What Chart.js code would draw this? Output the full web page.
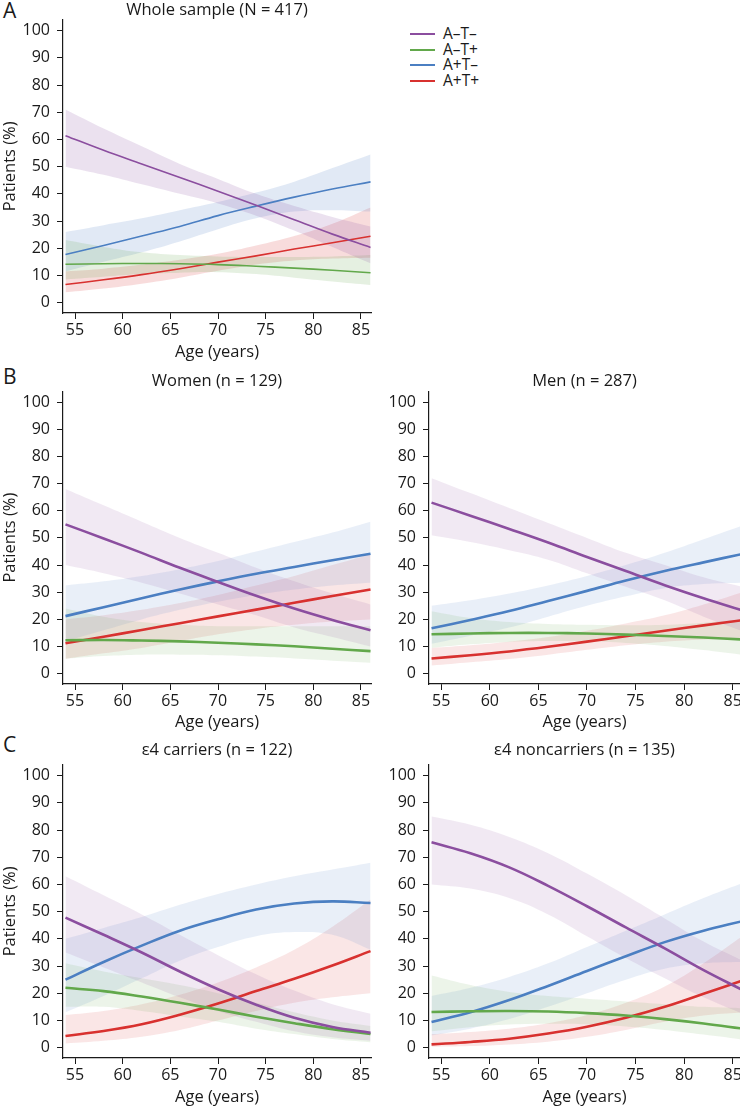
<!DOCTYPE html>
<html>
<head>
<meta charset="utf-8">
<script src="https://cdn.jsdelivr.net/npm/chart.js@4.4.0/dist/chart.umd.min.js"></script>
<style>
  body { margin: 0; width: 740px; height: 1108px; position: relative; background: #fff; overflow: hidden; font-family: 'Open Sans', sans-serif; color: #1a1a1a; }
  .panel { position: absolute; }
  .letter { position: absolute; left: 3px; font-size: 21px; line-height: 21px; }
  #legend { position: absolute; left: 410px; top: 26px; font-size: 15.5px; }
  #legend div { position: relative; height: 15.7px; line-height: 15.7px; padding-left: 33px; white-space: nowrap; }
  #legend span { position: absolute; left: 0; top: 7px; width: 25px; height: 2px; }
</style>
</head>
<body>
<div class="letter" style="top:0px">A</div>
<div class="letter" style="top:366px">B</div>
<div class="letter" style="top:734px">C</div>
<div id="legend"></div>

<div class="panel" style="left:0;top:0;width:380px;height:365px"><canvas id="whole"></canvas></div>
<div class="panel" style="left:0;top:365px;width:380px;height:370px"><canvas id="women"></canvas></div>
<div class="panel" style="left:370px;top:365px;width:370px;height:370px"><canvas id="men"></canvas></div>
<div class="panel" style="left:0;top:735px;width:380px;height:373px"><canvas id="carriers"></canvas></div>
<div class="panel" style="left:370px;top:735px;width:370px;height:373px"><canvas id="noncarriers"></canvas></div>

<script>
const ages = [54, 58, 62, 66, 70, 74, 78, 82, 86];
const groupLabels = ['A–T–', 'A–T+', 'A+T–', 'A+T+'];
const xTicks = [55, 60, 65, 70, 75, 80, 85];
const yTicks = [0, 10, 20, 30, 40, 50, 60, 70, 80, 90, 100];

// Whole sample (N = 417)
const wholeNN = [61.4, 56, 51, 46, 41, 35.8, 30.5, 25.2, 20.3];
const wholeNNlo = [50, 47, 43.5, 40, 36.5, 32, 26.5, 20.5, 14.5];
const wholeNNhi = [71, 64, 57.5, 51, 45.5, 40, 35.5, 31.5, 28];
const wholeNP = [14.1, 14.3, 14.4, 14.3, 14, 13.4, 12.7, 11.9, 11];
const wholeNPlo = [8.5, 9.5, 10.5, 11, 11.2, 10.5, 9.2, 7.8, 6.5];
const wholeNPhi = [23, 20.5, 18.5, 17.5, 17, 16.8, 16.8, 17, 17.5];
const wholePN = [17.7, 21, 24.5, 28, 32, 35.5, 38.8, 41.8, 44.4];
const wholePNlo = [11.5, 15, 18.5, 22.5, 27, 31, 33.5, 34, 33.5];
const wholePNhi = [26, 28.5, 31, 34, 37, 40.5, 44.5, 49.5, 54.5];
const wholePP = [6.7, 8.4, 10.3, 12.5, 14.9, 17.2, 19.7, 22, 24.4];
const wholePPlo = [3.8, 5.2, 7, 9.2, 11.7, 14, 15.5, 16.2, 16.5];
const wholePPhi = [11.5, 12.5, 14, 15.8, 18, 21, 24.5, 29, 35];

// Women (n = 129)
const womenNN = [55, 49.8, 44.5, 39, 33.8, 28.7, 24, 19.8, 16];
const womenNNlo = [40, 37, 33.5, 29.5, 25.5, 21.5, 17, 13.5, 10];
const womenNNhi = [68, 62, 56, 50, 44.5, 39, 34, 29.5, 25.5];
const womenNP = [12.3, 12.4, 12.2, 11.9, 11.4, 10.8, 10.1, 9.2, 8.3];
const womenNPlo = [5.5, 6.5, 7, 7, 6.8, 6.3, 5.6, 4.8, 4];
const womenNPhi = [24, 21, 19, 18, 17.5, 17.5, 17.5, 17.5, 17.5];
const womenPN = [21.2, 24.5, 27.8, 31, 34, 36.8, 39.3, 41.8, 44.2];
const womenPNlo = [12, 16, 20, 23.5, 26.5, 29, 31, 32.5, 33.5];
const womenPNhi = [32.5, 34, 36, 38.5, 41.5, 45, 48.5, 52, 56];
const womenPP = [11.2, 13.6, 16.1, 18.6, 21.1, 23.6, 26.1, 28.6, 31];
const womenPPlo = [5.5, 7.5, 9.5, 12, 14.5, 16.5, 18, 19.2, 20];
const womenPPhi = [20, 21.5, 23.5, 26, 29, 32.5, 36, 40, 44];

// Men (n = 287)
const menNN = [63, 58.2, 53.3, 48.3, 43, 37.8, 32.6, 27.8, 23.3];
const menNNlo = [51, 48.5, 45.5, 42, 37, 32, 27, 21, 15.7];
const menNNhi = [72, 66.5, 61, 55.5, 50, 44.5, 40, 35.5, 32];
const menNP = [14.5, 14.8, 15, 15, 14.8, 14.4, 13.9, 13.3, 12.6];
const menNPlo = [9.5, 10.8, 11.7, 12, 12, 11.3, 10.2, 8.7, 7];
const menNPhi = [23, 20.5, 19, 18.3, 18, 17.8, 18, 18.8, 20];
const menPN = [16.7, 19.8, 23.1, 26.8, 30.5, 34.3, 37.8, 41, 44.1];
const menPNlo = [11, 14, 17, 21, 25, 28.5, 31.5, 33, 33.5];
const menPNhi = [25, 27, 29.5, 32.5, 36, 40, 44.5, 49.5, 54.5];
const menPP = [5.6, 6.8, 8.2, 9.9, 11.8, 13.8, 15.8, 17.8, 19.7];
const menPPlo = [3, 4.2, 5.4, 7, 8.8, 10.5, 11.8, 12.6, 13];
const menPPhi = [9.5, 10.5, 11.8, 13.5, 15.8, 18.5, 21.5, 25.5, 30];

// ε4 carriers (n = 122)
const carNN = [47.8, 41.5, 35, 28, 21.5, 15.8, 11, 7.6, 5.5];
const carNNlo = [35, 29.5, 24, 18.5, 13.5, 9.5, 6, 3.8, 2.5];
const carNNhi = [63, 56, 49, 41.5, 34, 27, 21, 16, 12.5];
const carNP = [22, 20.8, 18.8, 16.5, 14, 11.4, 9, 6.8, 5];
const carNPlo = [15, 15, 13.5, 11.5, 9.5, 7, 5, 3.2, 2];
const carNPhi = [31, 28, 25.5, 23, 20, 16.5, 13, 10, 8];
const carPN = [25, 31.5, 37.5, 43, 47.2, 50.8, 53, 53.8, 53.2];
const carPNlo = [13, 19, 25.5, 32, 37, 41, 42.5, 41.5, 36];
const carPNhi = [40, 44, 48, 52.5, 56.5, 60, 63, 65.5, 68];
const carPP = [4.3, 6.1, 8.6, 12.1, 16.2, 20.8, 25.3, 30.2, 35.5];
const carPPlo = [1.5, 2.5, 4, 6.5, 10, 13.5, 16.5, 18.5, 20];
const carPPhi = [12, 13.5, 16, 19.5, 24, 29.5, 36, 44.5, 54.5];

// ε4 noncarriers (n = 135)
const nonNN = [75.5, 71.5, 66.3, 59.5, 52, 44.2, 36.5, 28.5, 21.2];
const nonNNlo = [60, 58.5, 55, 49, 41, 33, 25.5, 18.5, 12.5];
const nonNNhi = [85, 82, 77.5, 71.5, 64, 56, 47.5, 39, 32];
const nonNP = [13.1, 13.4, 13.5, 13.3, 12.7, 11.8, 10.5, 8.9, 7];
const nonNPlo = [6, 7.5, 8.5, 8.8, 8.6, 7.8, 6.5, 4.8, 3];
const nonNPhi = [26.5, 23, 20.5, 19, 18, 17, 16, 15, 14.5];
const nonPN = [9.4, 13, 17.5, 22.7, 28.2, 33.6, 38.8, 43, 46.5];
const nonPNlo = [4.5, 7, 10.5, 15, 20, 25, 29, 31, 31.5];
const nonPNhi = [19, 22, 26, 31, 37, 43, 49, 55, 60.5];
const nonPP = [1.2, 2.1, 3.3, 5.2, 7.7, 11, 15, 19.8, 24.7];
const nonPPlo = [0.3, 0.6, 1.2, 2.2, 4, 6.5, 9.5, 11.8, 13];
const nonPPhi = [5, 5.8, 7, 9, 12, 16.5, 22.5, 31, 41];

const colors = ['#8b4e9f', '#62a84b', '#4b7fc2', '#d8312f'];
const ink = '#1a1a1a';
const family = "'Open Sans', sans-serif";

function rgba(hex, a) {
  const n = parseInt(hex.slice(1), 16);
  return 'rgba(' + (n >> 16) + ',' + ((n >> 8) & 255) + ',' + (n & 255) + ',' + a + ')';
}

function pts(vals) {
  return ages.map((a, i) => ({ x: a, y: vals[i] }));
}

function makePanel(id, title, lines, lows, highs, o) {
  const datasets = [];
  lines.forEach((vals, g) => {
    datasets.push({
      label: groupLabels[g] + ' upper', data: pts(highs[g]), order: 1, tension: 0.4,
      borderWidth: 0, pointRadius: 0, fill: '+1', backgroundColor: rgba(colors[g], o.bandAlpha)
    });
    datasets.push({
      label: groupLabels[g] + ' lower', data: pts(lows[g]), order: 1, tension: 0.4,
      borderWidth: 0, pointRadius: 0, fill: false
    });
  });
  lines.forEach((vals, g) => {
    datasets.push({
      label: groupLabels[g], data: pts(vals), order: 0, tension: 0.4,
      borderColor: colors[g], borderWidth: o.lineWidth, pointRadius: 0, fill: false
    });
  });

  return new Chart(document.getElementById(id), {
    type: 'line',
    data: { datasets: datasets },
    options: {
      responsive: true,
      maintainAspectRatio: false,
      animation: false,
      events: [],
      layout: { padding: { left: 0, top: 0, bottom: 0, right: o.padRight } },
      plugins: {
        legend: { display: false },
        tooltip: { enabled: false },
        title: {
          display: true, text: title, fullSize: false, color: ink,
          font: { size: 16.5, weight: 'normal', family: family },
          padding: { top: o.titleTop, bottom: o.titleBottom }
        }
      },
      scales: {
        x: {
          type: 'linear', min: 53.74, max: o.xMax,
          afterBuildTicks: s => { s.ticks = xTicks.map(v => ({ value: v })); },
          afterFit: s => { s.height = o.xHeight; s.paddingLeft = 0; s.paddingRight = 0; },
          grid: { drawOnChartArea: false, drawTicks: true, tickLength: 6, color: ink },
          border: { display: true, color: ink, width: 1.2 },
          ticks: { color: ink, autoSkip: false, maxRotation: 0, padding: 2, font: { size: 16, family: family } },
          title: { display: true, text: 'Age (years)', color: ink, font: { size: 16.5, family: family }, padding: { top: 0, bottom: o.xTitlePad } }
        },
        y: {
          type: 'linear', min: -3.8, max: 104,
          afterBuildTicks: s => { s.ticks = yTicks.map(v => ({ value: v })); },
          afterFit: s => { s.width = o.yWidth; s.paddingTop = 0; s.paddingBottom = 0; },
          grid: { drawOnChartArea: false, drawTicks: true, tickLength: 6, color: ink },
          border: { display: true, color: ink, width: 1.2 },
          ticks: { color: ink, autoSkip: false, padding: 7, font: { size: 16, family: family } },
          title: { display: o.yTitle, text: 'Patients (%)', color: ink, font: { size: 16.5, family: family }, padding: { top: 0, bottom: 0 } }
        }
      }
    }
  });
}

const leftCol = { padRight: 9, xMax: 86.05, yWidth: 63, yTitle: true };
const rightCol = { padRight: 0, xMax: 85.75, yWidth: 59, yTitle: false };

makePanel('whole', 'Whole sample (N = 417)',
  [wholeNN, wholeNP, wholePN, wholePP], [wholeNNlo, wholeNPlo, wholePNlo, wholePPlo], [wholeNNhi, wholeNPhi, wholePNhi, wholePPhi],
  Object.assign({ lineWidth: 1.6, bandAlpha: 0.17, titleTop: 0, titleBottom: 0, xHeight: 52, xTitlePad: 3 }, leftCol));

makePanel('women', 'Women (n = 129)',
  [womenNN, womenNP, womenPN, womenPP], [womenNNlo, womenNPlo, womenPNlo, womenPPlo], [womenNNhi, womenNPhi, womenPNhi, womenPPhi],
  Object.assign({ lineWidth: 2.6, bandAlpha: 0.12, titleTop: 6.5, titleBottom: 0, xHeight: 51, xTitlePad: 3 }, leftCol));

makePanel('men', 'Men (n = 287)',
  [menNN, menNP, menPN, menPP], [menNNlo, menNPlo, menPNlo, menPPlo], [menNNhi, menNPhi, menPNhi, menPPhi],
  Object.assign({ lineWidth: 2.6, bandAlpha: 0.12, titleTop: 6.5, titleBottom: 0, xHeight: 51, xTitlePad: 3 }, rightCol));

makePanel('carriers', 'ε4 carriers (n = 122)',
  [carNN, carNP, carPN, carPP], [carNNlo, carNPlo, carPNlo, carPPlo], [carNNhi, carNPhi, carPNhi, carPPhi],
  Object.assign({ lineWidth: 2.6, bandAlpha: 0.12, titleTop: 5, titleBottom: 5, xHeight: 50, xTitlePad: 1 }, leftCol));

makePanel('noncarriers', 'ε4 noncarriers (n = 135)',
  [nonNN, nonNP, nonPN, nonPP], [nonNNlo, nonNPlo, nonPNlo, nonPPlo], [nonNNhi, nonNPhi, nonPNhi, nonPPhi],
  Object.assign({ lineWidth: 2.6, bandAlpha: 0.12, titleTop: 5, titleBottom: 5, xHeight: 50, xTitlePad: 1 }, rightCol));

// legend sits to the right of panel A
const legend = document.getElementById('legend');
groupLabels.forEach((label, g) => {
  const row = document.createElement('div');
  const swatch = document.createElement('span');
  swatch.style.background = colors[g];
  row.appendChild(swatch);
  row.appendChild(document.createTextNode(label));
  legend.appendChild(row);
});
</script>
</body>
</html>
